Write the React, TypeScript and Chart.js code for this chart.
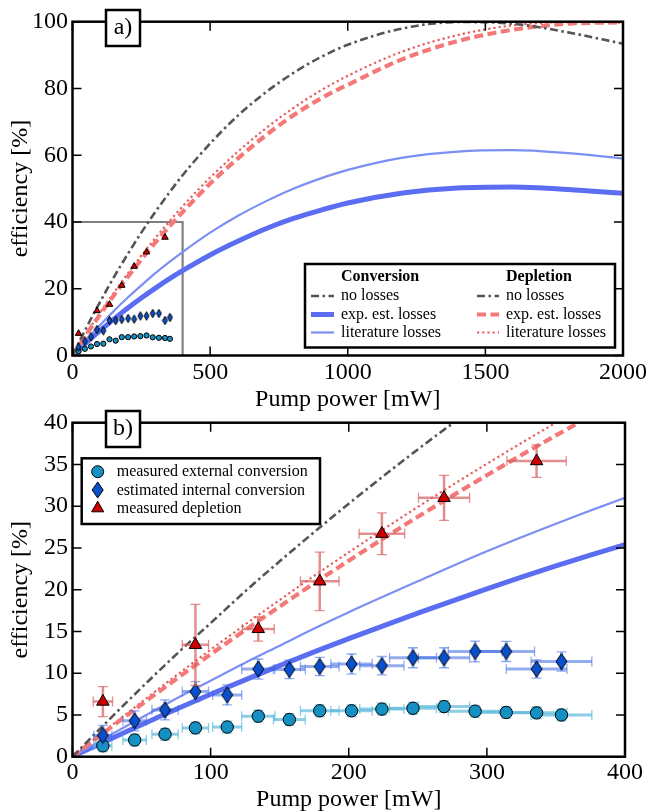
import React, { useEffect, useRef } from 'react';
import Chart from 'chart.js/auto';

const FONT = "'Liberation Serif', 'Times New Roman', serif";

// ---- model curves (pump power in mW, efficiency in %) ----
const curveX = [0, 20, 40, 60, 80, 100, 125, 150, 175, 200, 250, 300, 350, 400, 500, 600, 700, 800, 900, 1000, 1200, 1400, 1600, 1800, 2000];
const noLosses = [0, 3.36, 6.65, 9.87, 13.0, 16.0, 19.8, 23.4, 26.9, 30.3, 36.8, 42.9, 48.6, 54.0, 63.5, 71.8, 78.7, 84.5, 89.3, 93.1, 98.0, 99.9, 99.4, 96.8, 93.4];
const convExp = [0, 1.56, 3.09, 4.58, 6.05, 7.47, 9.2, 10.9, 12.55, 14.15, 17.2, 20.1, 22.85, 25.4, 30.1, 34.2, 37.9, 41.0, 43.5, 45.7, 48.7, 50.2, 50.5, 49.75, 48.6];
const convLit = [0, 1.9, 3.77, 5.6, 7.4, 9.1, 11.25, 13.3, 15.35, 17.3, 21.0, 24.6, 27.9, 31.0, 36.8, 41.8, 46.1, 49.9, 53.0, 55.6, 59.3, 61.1, 61.5, 60.6, 59.0];
const deplExp = [0, 2.54, 5.03, 7.49, 9.89, 12.26, 15.16, 17.99, 20.77, 23.48, 28.73, 33.71, 38.48, 43.0, 51.5, 59.0, 65.8, 71.8, 76.9, 81.1, 88.8, 94.2, 97.6, 99.4, 99.8];
const deplLit = [0, 2.66, 5.26, 7.83, 10.34, 12.81, 15.83, 18.78, 21.67, 24.48, 29.91, 35.08, 40.0, 44.7, 53.3, 61.0, 67.9, 74.0, 79.3, 83.8, 91.1, 96.0, 98.9, 99.9, 99.7];

// ---- measured points ----
const ptX = [22, 45, 67, 89, 112, 134.5, 157, 179, 202, 224, 246.5, 269, 291.5, 314, 336, 354];
const ptXErr = [6.5, 8.5, 9.5, 9.5, 10.5, 12, 11.5, 14, 15, 16, 17, 18.5, 19.5, 20.5, 22, 22];
const extConv = [1.3, 2.0, 2.7, 3.45, 3.55, 4.85, 4.45, 5.5, 5.5, 5.7, 5.8, 6.0, 5.45, 5.3, 5.25, 5.0];
const extConvErr = [0.7, 0.7, 0.7, 0.7, 0.7, 0.7, 0.7, 0.7, 0.7, 0.7, 0.7, 0.7, 0.7, 0.7, 0.7, 0.7];
const intConv = [2.55, 4.3, 5.6, 7.8, 7.4, 10.5, 10.45, 10.8, 11.1, 10.9, 11.85, 11.85, 12.6, 12.6, 10.5, 11.4];
const intConvErr = [1.2, 1.2, 1.2, 1.2, 1.2, 1.2, 1.1, 1.1, 1.2, 1.1, 1.2, 1.2, 1.25, 1.2, 1.1, 1.15];
const deplX = [22, 89, 134.5, 179, 224, 269, 336];
const deplXErr = [7, 9.5, 11.5, 14, 16.5, 18.5, 21.5];
const depl = [6.6, 13.4, 15.3, 21.0, 26.7, 31.0, 35.4];
const deplErr = [1.8, 4.85, 1.45, 3.5, 2.5, 2.7, 1.95];

// ---- axes ----
const xTicksA = [0, 500, 1000, 1500, 2000];
const yTicksA = [0, 20, 40, 60, 80, 100];
const xTicksB = [0, 100, 200, 300, 400];
const yTicksB = [0, 5, 10, 15, 20, 25, 30, 35, 40];
const zoomBoxX = [0, 400, 400];
const zoomBoxY = [40, 40, 0];

const legendAHeaders = ['Conversion', 'Depletion'];
const legendALabels = ['no losses', 'exp. est. losses', 'literature losses'];
const legendBLabels = ['measured external conversion', 'estimated internal conversion', 'measured depletion'];

const ST = {
  noLoss: { color: '#555555', width: 2.6, dash: [8, 3.5, 2.5, 3.5] },
  convExp: { color: '#5b6ef2', width: 5, dash: [] as number[] },
  convLit: { color: '#7c8ff2', width: 2.2, dash: [] as number[] },
  deplExp: { color: '#f47878', width: 4.2, dash: [9, 4.5] },
  deplLit: { color: '#e85c5c', width: 2.2, dash: [2.2, 3] },
};
const C_CIRC = '#1590c3';
const C_DIAM = '#0a4fcc';
const C_TRI = '#cc0000';

function makeDiamond(w: number, h: number, fill: string) {
  const c = document.createElement('canvas');
  c.width = Math.ceil(w + 2);
  c.height = Math.ceil(h + 2);
  const g = c.getContext('2d')!;
  const cx = c.width / 2, cy = c.height / 2;
  g.beginPath();
  g.moveTo(cx, cy - h / 2);
  g.lineTo(cx + w / 2, cy);
  g.lineTo(cx, cy + h / 2);
  g.lineTo(cx - w / 2, cy);
  g.closePath();
  g.fillStyle = fill;
  g.fill();
  g.lineWidth = 1;
  g.strokeStyle = '#000';
  g.stroke();
  return c;
}

function curveDs(ys: number[], st: { color: string; width: number; dash: number[] }) {
  return {
    type: 'line',
    data: curveX.map((x, i) => ({ x, y: ys[i] })),
    borderColor: st.color,
    borderWidth: st.width,
    borderDash: st.dash,
    borderCapStyle: 'butt',
    pointRadius: 0,
    fill: false,
    cubicInterpolationMode: 'monotone',
    clip: 0,
    order: 10,
  };
}

function drawSample(ctx: CanvasRenderingContext2D, st: { color: string; width: number; dash: number[] }, x0: number, x1: number, y: number) {
  ctx.save();
  ctx.strokeStyle = st.color;
  ctx.lineWidth = st.width;
  ctx.setLineDash(st.dash);
  ctx.lineCap = 'butt';
  ctx.beginPath();
  ctx.moveTo(x0, y);
  ctx.lineTo(x1, y);
  ctx.stroke();
  ctx.restore();
}

function drawMarker(ctx: CanvasRenderingContext2D, kind: string, x: number, y: number) {
  ctx.save();
  ctx.strokeStyle = '#000';
  ctx.lineWidth = 1;
  ctx.beginPath();
  if (kind === 'circle') {
    ctx.fillStyle = C_CIRC;
    ctx.arc(x, y, 6, 0, Math.PI * 2);
  } else if (kind === 'diamond') {
    ctx.fillStyle = C_DIAM;
    ctx.moveTo(x, y - 8); ctx.lineTo(x + 5.5, y); ctx.lineTo(x, y + 8); ctx.lineTo(x - 5.5, y); ctx.closePath();
  } else {
    ctx.fillStyle = C_TRI;
    const r = 7;
    ctx.moveTo(x, y - r); ctx.lineTo(x + 0.866 * r, y + 0.5 * r); ctx.lineTo(x - 0.866 * r, y + 0.5 * r); ctx.closePath();
  }
  ctx.fill();
  ctx.stroke();
  ctx.restore();
}

const decor = {
  id: 'decor',
  beforeDatasetDraw(chart: any, args: any) {
    const ds = chart.data.datasets[args.index];
    if (!ds.errX) return;
    const ctx = chart.ctx, xs = chart.scales.x, ys = chart.scales.y;
    ctx.save();
    ctx.strokeStyle = ds.errColor;
    ds.data.forEach((p: any, i: number) => {
      const px = xs.getPixelForValue(p.x), py = ys.getPixelForValue(p.y);
      const x0 = xs.getPixelForValue(p.x - ds.errX[i]), x1 = xs.getPixelForValue(p.x + ds.errX[i]);
      const y0 = ys.getPixelForValue(p.y - ds.errY[i]), y1 = ys.getPixelForValue(p.y + ds.errY[i]);
      ctx.lineWidth = ds.errWidth;
      ctx.beginPath();
      ctx.moveTo(x0, py); ctx.lineTo(x1, py);
      ctx.moveTo(px, y0); ctx.lineTo(px, y1);
      ctx.stroke();
      ctx.lineWidth = 1.3;
      ctx.beginPath();
      ctx.moveTo(x0, py - 5); ctx.lineTo(x0, py + 5);
      ctx.moveTo(x1, py - 5); ctx.lineTo(x1, py + 5);
      ctx.moveTo(px - 5, y0); ctx.lineTo(px + 5, y0);
      ctx.moveTo(px - 5, y1); ctx.lineTo(px + 5, y1);
      ctx.stroke();
    });
    ctx.restore();
  },
  afterDraw(chart: any, _args: any, opts: any) {
    const { ctx, chartArea: ca } = chart;
    const xs = chart.scales.x, ys = chart.scales.y;
    const isA = opts.panel === 'a';
    const xt = isA ? xTicksA : xTicksB;
    const yt = isA ? yTicksA : yTicksB;
    ctx.save();
    ctx.strokeStyle = '#000';
    ctx.lineWidth = 1.5;
    ctx.beginPath();
    xt.forEach((v) => {
      const p = xs.getPixelForValue(v);
      ctx.moveTo(p, ca.bottom); ctx.lineTo(p, ca.bottom - 9);
      ctx.moveTo(p, ca.top); ctx.lineTo(p, ca.top + 9);
    });
    yt.forEach((v) => {
      const p = ys.getPixelForValue(v);
      ctx.moveTo(ca.left, p); ctx.lineTo(ca.left + 9, p);
      ctx.moveTo(ca.right, p); ctx.lineTo(ca.right - 9, p);
    });
    ctx.stroke();
    ctx.lineWidth = 2.5;
    ctx.strokeRect(ca.left, ca.top, ca.right - ca.left, ca.bottom - ca.top);

    // legends
    ctx.textBaseline = 'middle';
    ctx.textAlign = 'left';
    if (isA) {
      ctx.fillStyle = '#fff';
      ctx.fillRect(305, 264, 310, 83.5);
      ctx.strokeRect(305, 264, 310, 83.5);
      ctx.fillStyle = '#000';
      ctx.font = `bold 16px ${FONT}`;
      ctx.fillText(legendAHeaders[0], 341, 277);
      ctx.fillText(legendAHeaders[1], 506, 277);
      ctx.font = `16px ${FONT}`;
      const rows = [296, 314.5, 332.5];
      const left = [ST.noLoss, ST.convExp, ST.convLit];
      const right = [ST.noLoss, ST.deplExp, ST.deplLit];
      rows.forEach((y, i) => {
        drawSample(ctx, left[i], 311, 334, y);
        drawSample(ctx, right[i], 477, 499, y);
        ctx.fillStyle = '#000';
        ctx.fillText(legendALabels[i], 341, y);
        ctx.fillText(legendALabels[i], 506, y);
      });
    } else {
      ctx.fillStyle = '#fff';
      ctx.fillRect(81.7, 58.3, 238.3, 65.7);
      ctx.strokeRect(81.7, 58.3, 238.3, 65.7);
      ctx.font = `16px ${FONT}`;
      const rows = [71.7, 90, 108.3];
      const kinds = ['circle', 'diamond', 'triangle'];
      rows.forEach((y, i) => {
        drawMarker(ctx, kinds[i], 97.7, y);
        ctx.fillStyle = '#000';
        ctx.fillText(legendBLabels[i], 116.7, y + 0.5);
      });
    }

    // panel label box
    const bt = isA ? 10 : 11;
    ctx.lineWidth = 2.5;
    ctx.fillStyle = '#fff';
    ctx.fillRect(106, bt, 34, 36);
    ctx.strokeRect(106, bt, 34, 36);
    ctx.fillStyle = '#000';
    ctx.font = `24px ${FONT}`;
    ctx.textAlign = 'center';
    ctx.fillText(opts.panel + ')', 123, bt + 18);
    ctx.restore();
  },
};

function buildConfig(panel: 'a' | 'b'): any {
  const isA = panel === 'a';
  const xt = isA ? xTicksA : xTicksB;
  const yt = isA ? yTicksA : yTicksB;
  const chartTop = isA ? 21.7 : 22.7;
  const chartBottom = isA ? 355.5 : 356.7;
  const datasets: any[] = [
    curveDs(noLosses, ST.noLoss),
    curveDs(deplExp, ST.deplExp),
    curveDs(deplLit, ST.deplLit),
    curveDs(convLit, ST.convLit),
    curveDs(convExp, ST.convExp),
  ];
  if (isA) {
    datasets.push({
      type: 'line',
      data: zoomBoxX.map((x, i) => ({ x, y: zoomBoxY[i] })),
      borderColor: '#808080',
      borderWidth: 2.2,
      pointRadius: 0,
      tension: 0,
      fill: false,
      order: 11,
    });
  }
  const circ: any = {
    type: 'scatter',
    data: ptX.map((x, i) => ({ x, y: extConv[i] })),
    pointStyle: 'circle',
    pointRadius: isA ? 2.6 : 6.2,
    backgroundColor: C_CIRC,
    borderColor: '#000',
    borderWidth: 1,
    order: 3,
  };
  const diam: any = {
    type: 'scatter',
    data: ptX.map((x, i) => ({ x, y: intConv[i] })),
    pointStyle: isA ? makeDiamond(4.8, 8.5, C_DIAM) : makeDiamond(11, 16, C_DIAM),
    pointRadius: 5,
    backgroundColor: C_DIAM,
    borderColor: '#000',
    borderWidth: 1,
    order: 2,
  };
  const tri: any = {
    type: 'scatter',
    data: deplX.map((x, i) => ({ x, y: depl[i] })),
    pointStyle: 'triangle',
    pointRadius: isA ? 3.8 : 7.2,
    backgroundColor: C_TRI,
    borderColor: '#000',
    borderWidth: 1,
    order: 1,
  };
  if (!isA) {
    circ.errX = ptXErr; circ.errY = extConvErr; circ.errColor = 'rgba(90,185,220,0.7)'; circ.errWidth = 3;
    diam.errX = ptXErr; diam.errY = intConvErr; diam.errColor = 'rgba(60,105,225,0.55)'; diam.errWidth = 3;
    tri.errX = deplXErr; tri.errY = deplErr; tri.errColor = 'rgba(215,95,95,0.7)'; tri.errWidth = 2.5;
  }
  datasets.push(circ, diam, tri);

  return {
    type: 'scatter',
    data: { datasets },
    plugins: [decor],
    options: {
      animation: false,
      responsive: false,
      events: [],
      layout: { padding: { left: 0, right: 25, top: chartTop, bottom: 0 } },
      plugins: {
        legend: { display: false },
        tooltip: { enabled: false },
        decor: { panel },
      },
      scales: {
        x: {
          type: 'linear',
          min: xt[0],
          max: xt[xt.length - 1],
          afterBuildTicks: (s: any) => { s.ticks = xt.map((v) => ({ value: v })); },
          afterFit: (s: any) => { s.height = 412 - chartBottom; },
          grid: { display: false, drawTicks: false },
          border: { display: false },
          ticks: {
            autoSkip: false,
            maxRotation: 0,
            padding: isA ? 3 : 2,
            color: '#000',
            font: { family: FONT, size: 24 },
            callback: (v: any) => String(v),
          },
          title: {
            display: true,
            text: 'Pump power [mW]',
            color: '#000',
            font: { family: FONT, size: 24, lineHeight: 1 },
            padding: { top: 0, bottom: 0 },
          },
        },
        y: {
          type: 'linear',
          min: yt[0],
          max: yt[yt.length - 1],
          afterBuildTicks: (s: any) => { s.ticks = yt.map((v) => ({ value: v })); },
          afterFit: (s: any) => { s.width = 72.5; },
          grid: { display: false, drawTicks: false },
          border: { display: false },
          ticks: {
            autoSkip: false,
            padding: 4.5,
            color: '#000',
            font: { family: FONT, size: 24 },
            callback: (v: any) => String(v),
          },
          title: {
            display: true,
            text: 'efficiency [%]',
            color: '#000',
            font: { family: FONT, size: 24, lineHeight: 1 },
            padding: { top: 8.5, bottom: 0 },
          },
        },
      },
    },
  };
}

function Panel({ panel, top }: { panel: 'a' | 'b'; top: number }) {
  const ref = useRef<HTMLCanvasElement>(null);
  useEffect(() => {
    if (!ref.current) return;
    const chart = new Chart(ref.current, buildConfig(panel));
    return () => chart.destroy();
  }, [panel]);
  return (
    <canvas
      ref={ref}
      width={650}
      height={412}
      style={{ position: 'absolute', left: 0, top, width: 650, height: 412 }}
    />
  );
}

export default function App() {
  useEffect(() => {
    document.body.style.margin = '0';
  }, []);
  return (
    <div style={{ position: 'relative', width: 650, height: 812, background: '#fff', overflow: 'hidden' }}>
      <Panel panel="a" top={0} />
      <Panel panel="b" top={400} />
    </div>
  );
}
